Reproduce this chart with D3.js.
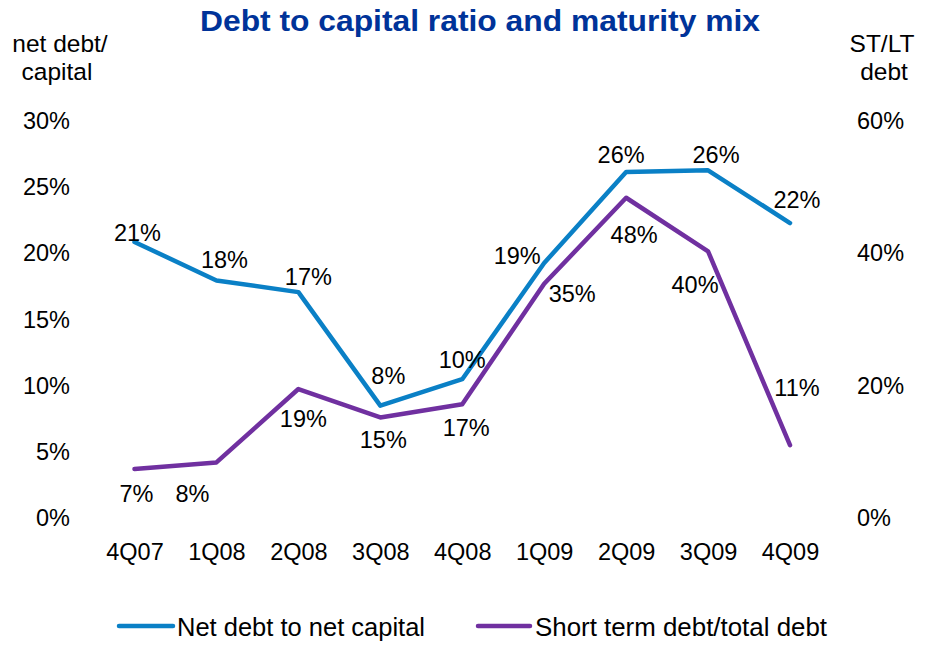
<!DOCTYPE html>
<html>
<head>
<meta charset="utf-8">
<script src="https://cdn.jsdelivr.net/npm/d3@7"></script>
<style>
  html, body { margin: 0; padding: 0; background: #fff; }
  svg { display: block; font-family: "Liberation Sans", Arial, sans-serif; }
</style>
</head>
<body>
<svg id="chart" width="928" height="645"></svg>
<script>
// Quarters on the x axis
const quarters = ["4Q07", "1Q08", "2Q08", "3Q08", "4Q08", "1Q09", "2Q09", "3Q09", "4Q09"];

// Net debt to net capital (left axis, %)
const netDebtToCapital = [20.86, 17.95, 17.07, 8.49, 10.49, 19.27, 26.15, 26.27, 22.29];

// Short term debt / total debt (right axis, %)
const shortTermShare = [7.4, 8.4, 19.49, 15.2, 17.2, 35.4, 48.4, 40.3, 11.0];

// Axis tick values
const leftTicks = [0, 5, 10, 15, 20, 25, 30];
const rightTicks = [0, 20, 40, 60];

// Label nudges (dx, dy) from each point to its value label
const netDebtLabelShift = [[3, -9], [8, -21], [10, -16], [8, -30], [0, -20], [-27, -7], [-5, -17], [8, -16], [7, -23]];
const shortTermLabelShift = [[2, 25], [-24, 31], [5, 29], [3, 22], [4, 23], [28, 10], [8, 37], [-13, 33], [7, -58]];

const BLUE = "#0A80C6";
const PURPLE = "#7030A0";
const TITLE = "#003399";
const TEXT = "#000";

const svg = d3.select("#chart");

const x = d3.scalePoint().domain(quarters).range([134.5, 790]);
const yLeft = d3.scaleLinear().domain([0, 30]).range([518, 121]);
const yRight = d3.scaleLinear().domain([0, 60]).range([518, 121]);

// Title
svg.append("text")
  .attr("x", 200).attr("y", 31)
  .attr("textLength", 560).attr("lengthAdjust", "spacingAndGlyphs")
  .attr("font-size", 29).attr("font-weight", "bold")
  .attr("fill", TITLE)
  .text("Debt to capital ratio and maturity mix");

// Axis titles
const leftTitle = svg.append("text").attr("font-size", 24.5).attr("fill", TEXT).attr("text-anchor", "middle");
leftTitle.append("tspan").attr("x", 60).attr("y", 52).text("net debt/");
leftTitle.append("tspan").attr("x", 57).attr("y", 80).text("capital");

const rightTitle = svg.append("text").attr("font-size", 24.5).attr("fill", TEXT).attr("text-anchor", "middle");
rightTitle.append("tspan").attr("x", 882).attr("y", 52).text("ST/LT");
rightTitle.append("tspan").attr("x", 884).attr("y", 80).text("debt");

// Left axis
const fmtPct = d => d + "%";
const leftAxis = svg.append("g")
  .attr("transform", "translate(70,0)")
  .call(d3.axisLeft(yLeft).tickValues(leftTicks).tickFormat(fmtPct).tickSize(0).tickPadding(0));
leftAxis.select(".domain").remove();
leftAxis.selectAll("text").attr("font-size", 23.5).attr("fill", TEXT).attr("font-family", null);

// Right axis
const rightAxis = svg.append("g")
  .attr("transform", "translate(857,0)")
  .call(d3.axisRight(yRight).tickValues(rightTicks).tickFormat(fmtPct).tickSize(0).tickPadding(0));
rightAxis.select(".domain").remove();
rightAxis.selectAll("text").attr("font-size", 23.5).attr("fill", TEXT).attr("font-family", null);

// Category axis
const xAxis = svg.append("g")
  .attr("transform", "translate(0,540)")
  .call(d3.axisBottom(x).tickSize(0).tickPadding(0));
xAxis.select(".domain").remove();
xAxis.selectAll("text").attr("font-size", 23.5).attr("fill", TEXT).attr("font-family", null).attr("dy", "0.85em");

// Lines with value labels
function drawSeries(values, yScale, color, shifts) {
  const line = d3.line()
    .x((d, i) => x(quarters[i]))
    .y(d => yScale(d));
  svg.append("path")
    .datum(values)
    .attr("d", line)
    .attr("fill", "none")
    .attr("stroke", color)
    .attr("stroke-width", 4.5)
    .attr("stroke-linejoin", "round")
    .attr("stroke-linecap", "round");

  svg.append("g").selectAll("text")
    .data(values)
    .join("text")
    .attr("x", (d, i) => x(quarters[i]) + shifts[i][0])
    .attr("y", (d, i) => yScale(d) + shifts[i][1])
    .attr("dy", "0.36em")
    .attr("text-anchor", "middle")
    .attr("font-size", 23.5)
    .attr("fill", TEXT)
    .text(d => Math.round(d) + "%");
}

drawSeries(netDebtToCapital, yLeft, BLUE, netDebtLabelShift);
drawSeries(shortTermShare, yRight, PURPLE, shortTermLabelShift);

// Legend
const legendItems = [
  { label: "Net debt to net capital", color: BLUE, x0: 119, x1: 173, tx: 177, w: 248 },
  { label: "Short term debt/total debt", color: PURPLE, x0: 478, x1: 530, tx: 535, w: 292 }
];
const legend = svg.append("g");
legendItems.forEach(item => {
  legend.append("line")
    .attr("x1", item.x0).attr("x2", item.x1)
    .attr("y1", 626).attr("y2", 626)
    .attr("stroke", item.color).attr("stroke-width", 4.5).attr("stroke-linecap", "round");
  legend.append("text")
    .attr("x", item.tx).attr("y", 636)
    .attr("font-size", 25)
    .attr("textLength", item.w).attr("lengthAdjust", "spacingAndGlyphs")
    .attr("fill", TEXT)
    .text(item.label);
});
</script>
</body>
</html>
